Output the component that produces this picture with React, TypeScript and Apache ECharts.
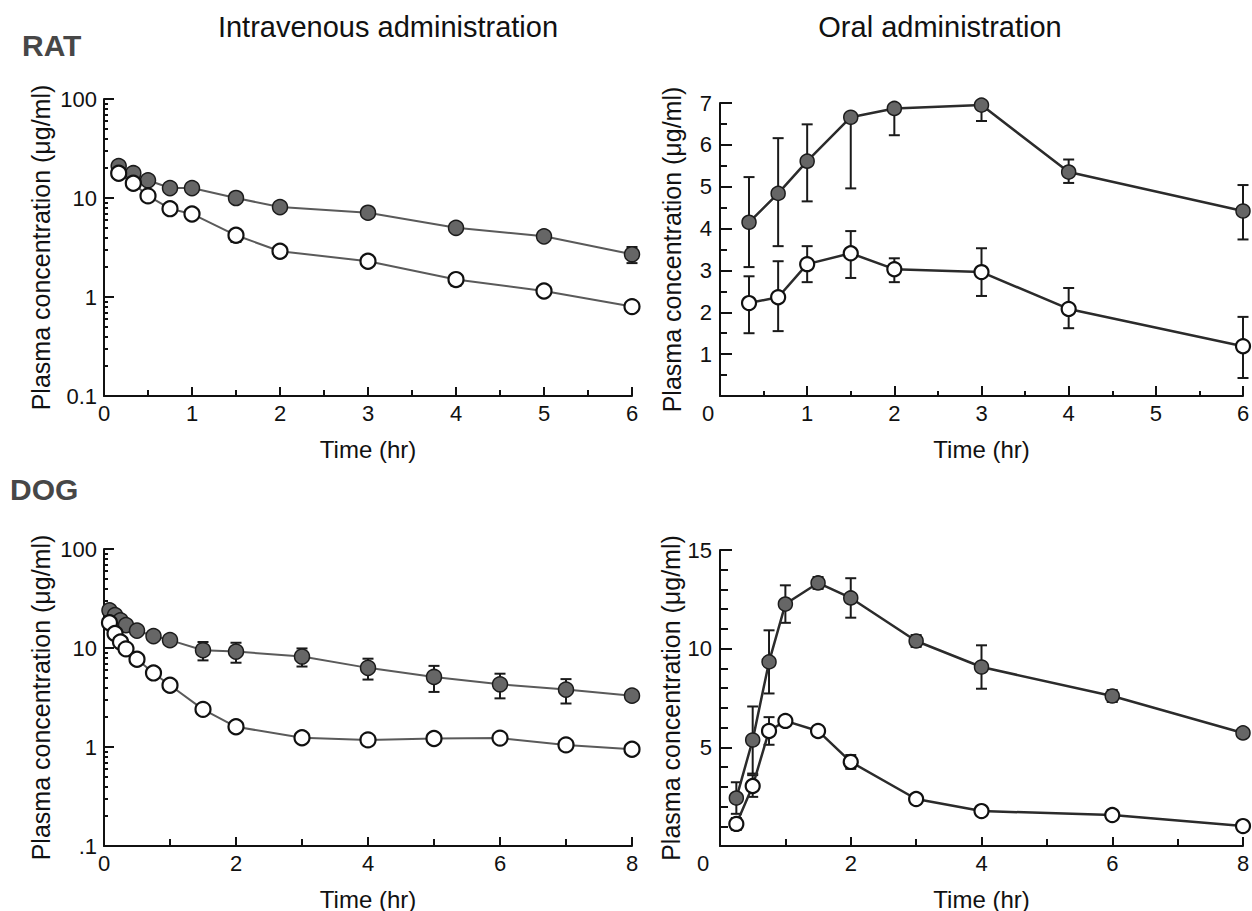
import React, { useEffect, useRef } from 'react';
import * as echarts from 'echarts';

// ---------- RAT, intravenous (log scale) ----------
const ratIvTime = [0.167, 0.333, 0.5, 0.75, 1, 1.5, 2, 3, 4, 5, 6];
const ratIvFilled = [21, 17.8, 15.1, 12.6, 12.6, 10, 8.1, 7.1, 5.0, 4.1, 2.7];
const ratIvFilledErr = [0, 0, 0, 0, 0, 0, 0, 0, 0.5, 0.3, 0.5];
const ratIvOpen = [17.8, 14.1, 10.5, 7.8, 6.9, 4.2, 2.9, 2.3, 1.5, 1.15, 0.8];
const ratIvOpenErr = [0, 0, 0, 0, 0, 0.6, 0, 0, 0.2, 0, 0];

// ---------- RAT, oral ----------
const ratPoTime = [0.333, 0.667, 1, 1.5, 2, 3, 4, 6];
const ratPoFilled = [4.15, 4.84, 5.61, 6.66, 6.87, 6.95, 5.35, 4.42];
const ratPoFilledUp = [1.08, 1.32, 0.88, 0, 0, 0, 0.3, 0.62];
const ratPoFilledDown = [1.07, 1.26, 0.96, 1.7, 0.64, 0.38, 0.26, 0.68];
const ratPoOpen = [2.22, 2.36, 3.15, 3.41, 3.03, 2.96, 2.08, 1.19];
const ratPoOpenUp = [0.64, 0.86, 0.43, 0.53, 0.26, 0.57, 0.5, 0.7];
const ratPoOpenDown = [0.72, 0.81, 0.43, 0.59, 0.31, 0.57, 0.46, 0.76];

// ---------- DOG, intravenous (log scale) ----------
const dogIvTime = [0.083, 0.167, 0.25, 0.333, 0.5, 0.75, 1, 1.5, 2, 3, 4, 5, 6, 7, 8];
const dogIvFilled = [24, 21.5, 19, 17, 15, 13.2, 12, 9.5, 9.2, 8.2, 6.3, 5.1, 4.3, 3.8, 3.3];
const dogIvFilledErr = [0, 0, 0, 0, 0, 0, 0, 2.0, 2.1, 1.7, 1.5, 1.5, 1.2, 1.05, 0];
const dogIvOpen = [18, 14, 11.5, 9.8, 7.7, 5.6, 4.2, 2.4, 1.6, 1.24, 1.18, 1.22, 1.23, 1.05, 0.95];
const dogIvOpenErr = [0, 0, 0, 0, 0, 0, 0, 0, 0, 0, 0, 0.12, 0, 0.1, 0];

// ---------- DOG, oral ----------
const dogPoTime = [0.25, 0.5, 0.75, 1, 1.5, 2, 3, 4, 6, 8];
const dogPoFilled = [2.43, 5.37, 9.33, 12.26, 13.33, 12.57, 10.39, 9.07, 7.6, 5.73];
const dogPoFilledErr = [0.8, 1.7, 1.6, 0.95, 0.3, 1.0, 0.3, 1.1, 0.3, 0];
const dogPoOpen = [1.12, 3.04, 5.83, 6.34, 5.83, 4.26, 2.38, 1.77, 1.57, 1.01];
const dogPoOpenErr = [0.3, 0.55, 0.7, 0, 0, 0.35, 0.15, 0, 0, 0];

// texts
const panelTitles = ['Intravenous administration', 'Oral administration'];
const speciesLabels = ['RAT', 'DOG'];
const yName = 'Plasma concentration (μg/ml)';
const xName = 'Time (hr)';
const logMinorValues = [0.1, 1, 10].flatMap((d) => [2, 3, 4, 5, 6, 7, 8, 9].map((k) => Math.log10(d * k)));

const FONT = "'Liberation Sans', Arial, Helvetica, sans-serif";
const INK = '#111';

const pairs = (t: number[], v: number[]) => t.map((x, i) => [x, v[i]]);
const errRows = (t: number[], v: number[], up: number[], dn: number[]) =>
  t.map((x, i) => [x, v[i], up[i], dn[i]]).filter((r) => r[2] > 0 || r[3] > 0);

const renderErr = (_p: any, api: any) => {
  const x = api.value(0);
  const y = api.value(1);
  const up = api.value(2);
  const dn = api.value(3);
  const c = api.coord([x, y]);
  const top = up > 0 ? api.coord([x, y + up]) : c;
  const bot = dn > 0 ? api.coord([x, y - dn]) : c;
  const w = 5.5;
  const style = { stroke: '#1a1a1a', lineWidth: 2 };
  const children: any[] = [
    { type: 'line', shape: { x1: c[0], y1: top[1], x2: c[0], y2: bot[1] }, style },
  ];
  if (up > 0) children.push({ type: 'line', shape: { x1: c[0] - w, y1: top[1], x2: c[0] + w, y2: top[1] }, style });
  if (dn > 0) children.push({ type: 'line', shape: { x1: c[0] - w, y1: bot[1], x2: c[0] + w, y2: bot[1] }, style });
  return { type: 'group', children };
};

const lineStyleAxis = { color: INK, width: 2 };
const labelBase = { color: INK, fontSize: 22, fontFamily: FONT };
const nameStyle = { color: INK, fontSize: 24, fontFamily: FONT };

function lineSeries(data: number[][], xi: number, yi: number, filled: boolean, oral: boolean) {
  return {
    type: 'line',
    data,
    xAxisIndex: xi,
    yAxisIndex: yi,
    symbol: 'circle',
    symbolSize: oral ? 14 : 15,
    showAllSymbol: true,
    lineStyle: { color: oral ? '#2b2b2b' : '#5a5a5a', width: oral ? 2.5 : 2 },
    itemStyle: filled
      ? { color: '#666666', borderColor: '#1c1c1c', borderWidth: 1.5 }
      : { color: '#ffffff', borderColor: '#111', borderWidth: 2.2 },
    z: filled ? 3 : 4,
    silent: true,
    emphasis: { disabled: true },
  };
}

function errSeries(data: number[][], xi: number, yi: number) {
  return {
    type: 'custom',
    renderItem: renderErr,
    data,
    xAxisIndex: xi,
    yAxisIndex: yi,
    encode: { x: 0, y: 1 },
    z: 2,
    silent: true,
  };
}

function xAxis(grid: number, max: number, interval: number, majorLen: number, minorLen: number, zeroPad: number) {
  return {
    type: 'value',
    gridIndex: grid,
    min: 0,
    max,
    interval,
    axisLine: { onZero: false, lineStyle: lineStyleAxis },
    axisTick: { inside: true, length: majorLen, lineStyle: lineStyleAxis },
    minorTick: { show: true, splitNumber: 2, length: minorLen, lineStyle: lineStyleAxis },
    splitLine: { show: false },
    axisLabel: {
      ...labelBase,
      margin: 6,
      formatter: (v: number) => (v === 0 && zeroPad > 0 ? '{z|0}' : String(v)),
      rich: { z: { ...labelBase, padding: [0, zeroPad, 0, 0] } },
    },
    name: xName,
    nameLocation: 'middle',
    nameGap: 41,
    nameTextStyle: nameStyle,
  };
}

function logMajor(grid: number, dot: boolean) {
  return {
    type: 'log',
    logBase: 10,
    gridIndex: grid,
    position: 'left',
    min: 0.1,
    max: 100,
    axisLine: { onZero: false, lineStyle: lineStyleAxis },
    axisTick: { inside: true, length: 10, lineStyle: lineStyleAxis },
    splitLine: { show: false },
    axisLabel: {
      ...labelBase,
      margin: 7,
      formatter: (v: number) => (v < 0.5 ? (dot ? '.1' : '0.1') : String(Math.round(v))),
    },
    name: yName,
    nameLocation: 'middle',
    nameGap: 51,
    nameTextStyle: { ...nameStyle, fontSize: 25 },
  };
}

function logMinor(grid: number) {
  return {
    type: 'value',
    gridIndex: grid,
    position: 'left',
    min: -1,
    max: 2,
    axisLine: { show: false },
    axisTick: { inside: true, length: 4, customValues: logMinorValues, lineStyle: lineStyleAxis },
    axisLabel: { show: false },
    splitLine: { show: false },
  };
}

function linY(grid: number, max: number, interval: number, minorSplit: number, minorLen: number) {
  return {
    type: 'value',
    gridIndex: grid,
    position: 'left',
    min: 0,
    max,
    interval,
    axisLine: { onZero: false, lineStyle: lineStyleAxis },
    axisTick: { inside: true, length: 12, lineStyle: lineStyleAxis },
    minorTick: { show: true, splitNumber: minorSplit, length: minorLen, lineStyle: lineStyleAxis },
    splitLine: { show: false },
    axisLabel: { ...labelBase, margin: 8, formatter: (v: number) => (v === 0 ? '' : String(v)) },
    name: yName,
    nameLocation: 'middle',
    nameGap: 36,
    nameTextStyle: { ...nameStyle, fontSize: 25 },
  };
}

export default function App() {
  const ref = useRef<HTMLDivElement>(null);
  useEffect(() => {
    if (!ref.current) return;
    const chart = echarts.init(ref.current, undefined, { renderer: 'svg' });
    const gridBase = { outerBoundsMode: 'none', containLabel: false };
    chart.setOption({
      animation: false,
      backgroundColor: '#ffffff',
      grid: [
        { ...gridBase, left: 104, top: 99, width: 528, height: 297 },
        { ...gridBase, left: 720, top: 103, width: 523, height: 293 },
        { ...gridBase, left: 104, top: 549, width: 528, height: 297 },
        { ...gridBase, left: 720, top: 550, width: 523, height: 296 },
      ],
      xAxis: [
        xAxis(0, 6, 1, 9, 6, 0),
        xAxis(1, 6, 1, 10, 5, 24),
        xAxis(2, 8, 2, 9, 7, 0),
        xAxis(3, 8, 2, 9, 7, 34),
      ],
      yAxis: [
        logMajor(0, false),
        logMinor(0),
        linY(1, 7, 1, 2, 7),
        logMajor(2, true),
        logMinor(2),
        linY(3, 15, 5, 5, 8),
      ],
      graphic: [
        { type: 'text', x: 22, y: 45, style: { text: speciesLabels[0], fontSize: 30, fontWeight: 'bold', fontFamily: FONT, fill: '#474747', align: 'left', verticalAlign: 'middle' } },
        { type: 'text', x: 10, y: 489, style: { text: speciesLabels[1], fontSize: 30, fontWeight: 'bold', fontFamily: FONT, fill: '#474747', align: 'left', verticalAlign: 'middle' } },
        { type: 'text', x: 388, y: 27, style: { text: panelTitles[0], fontSize: 29, fontFamily: FONT, fill: INK, align: 'center', verticalAlign: 'middle' } },
        { type: 'text', x: 940, y: 27, style: { text: panelTitles[1], fontSize: 29, fontFamily: FONT, fill: INK, align: 'center', verticalAlign: 'middle' } },
      ],
      series: [
        errSeries(
          [
            ...errRows(ratIvTime, ratIvFilled, ratIvFilledErr, ratIvFilledErr),
            ...errRows(ratIvTime, ratIvOpen, ratIvOpenErr, ratIvOpenErr),
          ],
          0,
          0
        ),
        lineSeries(pairs(ratIvTime, ratIvFilled), 0, 0, true, false),
        lineSeries(pairs(ratIvTime, ratIvOpen), 0, 0, false, false),

        errSeries(
          [
            ...errRows(ratPoTime, ratPoFilled, ratPoFilledUp, ratPoFilledDown),
            ...errRows(ratPoTime, ratPoOpen, ratPoOpenUp, ratPoOpenDown),
          ],
          1,
          2
        ),
        lineSeries(pairs(ratPoTime, ratPoFilled), 1, 2, true, true),
        lineSeries(pairs(ratPoTime, ratPoOpen), 1, 2, false, true),

        errSeries(
          [
            ...errRows(dogIvTime, dogIvFilled, dogIvFilledErr, dogIvFilledErr),
            ...errRows(dogIvTime, dogIvOpen, dogIvOpenErr, dogIvOpenErr),
          ],
          2,
          3
        ),
        lineSeries(pairs(dogIvTime, dogIvFilled), 2, 3, true, false),
        lineSeries(pairs(dogIvTime, dogIvOpen), 2, 3, false, false),

        errSeries(
          [
            ...errRows(dogPoTime, dogPoFilled, dogPoFilledErr, dogPoFilledErr),
            ...errRows(dogPoTime, dogPoOpen, dogPoOpenErr, dogPoOpenErr),
          ],
          3,
          5
        ),
        lineSeries(pairs(dogPoTime, dogPoFilled), 3, 5, true, true),
        lineSeries(pairs(dogPoTime, dogPoOpen), 3, 5, false, true),
      ],
    });
    return () => chart.dispose();
  }, []);
  return (
    <div
      ref={ref}
      style={{ position: 'absolute', left: 0, top: 0, width: 1252, height: 911, background: '#fff' }}
    />
  );
}
